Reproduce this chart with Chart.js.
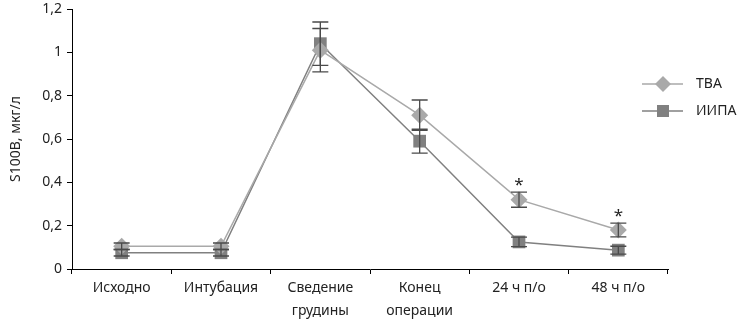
<!DOCTYPE html>
<html><head><meta charset="utf-8">
<script src="https://cdn.jsdelivr.net/npm/chart.js@4/dist/chart.umd.min.js"></script>
<style>html,body{margin:0;padding:0;background:#fff}#wrap{width:737px;height:319px}</style>
</head><body><div id="wrap"><canvas id="c" width="737" height="319"></canvas></div>
<script>
const categories = ["Исходно", "Интубация", ["Сведение", "грудины"], ["Конец", "операции"], "24 ч п/о", "48 ч п/о"];
const seriesNames = ["ТВА", "ИИПА"];
const tvaValues = [0.105, 0.105, 1.01, 0.71, 0.32, 0.18];
const tvaErrors = [0.015, 0.015, 0.10, 0.07, 0.035, 0.032];
const iipaValues = [0.075, 0.075, 1.04, 0.59, 0.125, 0.087];
const iipaErrors = [0.015, 0.015, 0.10, 0.055, 0.022, 0.018];
const significant = [false, false, false, false, true, true];
const yTicks = [0, 0.2, 0.4, 0.6, 0.8, 1, 1.2];

const FONT = "'Noto Sans', sans-serif";
const colTva = '#a9a9a9', colIipa = '#808080', colErr = '#4a4a4a';
const errors = [tvaErrors, iipaErrors];

const fmt = v => String(Math.round(v * 10) / 10).replace('.', ',');

const errPlugin = {
  id: 'errbars',
  afterDatasetsDraw(chart) {
    const ctx = chart.ctx, ys = chart.scales.y;
    ctx.save();
    ctx.strokeStyle = colErr; ctx.lineWidth = 1.3;
    chart.data.datasets.forEach((ds, i) => {
      const meta = chart.getDatasetMeta(i);
      ds.data.forEach((v, j) => {
        const e = errors[i][j];
        const x = meta.data[j].x;
        const yh = ys.getPixelForValue(v + e), yl = ys.getPixelForValue(v - e);
        ctx.beginPath();
        ctx.moveTo(x, yh); ctx.lineTo(x, yl);
        ctx.moveTo(x - 8, yh); ctx.lineTo(x + 8, yh);
        ctx.moveTo(x - 8, yl); ctx.lineTo(x + 8, yl);
        ctx.stroke();
      });
    });
    const meta0 = chart.getDatasetMeta(0);
    ctx.fillStyle = '#222'; ctx.font = "17px " + FONT; ctx.textAlign = 'center'; ctx.textBaseline = 'alphabetic';
    significant.forEach((s, j) => {
      if (!s) return;
      const x = meta0.data[j].x;
      const yh = ys.getPixelForValue(tvaValues[j] + tvaErrors[j]);
      ctx.fillText('*', x, yh - 2);
    });
    ctx.restore();
  },
  afterDraw(chart) {
    const ctx = chart.ctx;
    ctx.save();
    const rows = [
      {name: seriesNames[0], y: 84, col: colTva, shape: 'diamond'},
      {name: seriesNames[1], y: 111, col: colIipa, shape: 'square'}
    ];
    rows.forEach(r => {
      ctx.strokeStyle = r.col; ctx.lineWidth = 1.5;
      ctx.beginPath(); ctx.moveTo(642, r.y); ctx.lineTo(683, r.y); ctx.stroke();
      ctx.fillStyle = r.col;
      ctx.beginPath();
      if (r.shape === 'diamond') {
        ctx.moveTo(663, r.y - 8); ctx.lineTo(671, r.y); ctx.lineTo(663, r.y + 8); ctx.lineTo(655, r.y); ctx.closePath();
      } else {
        ctx.rect(657, r.y - 6, 12, 12);
      }
      ctx.fill();
      ctx.fillStyle = '#222'; ctx.font = "14px " + FONT; ctx.textAlign = 'left'; ctx.textBaseline = 'middle';
      ctx.fillText(r.name, 696, r.y);
    });
    ctx.restore();
  }
};

new Chart(document.getElementById('c'), {
  type: 'line',
  data: {
    labels: categories,
    datasets: [
      {label: seriesNames[0], data: tvaValues, borderColor: colTva, backgroundColor: colTva, borderWidth: 1.5,
       pointStyle: 'rectRot', pointRadius: 8.5, pointHoverRadius: 8.5, pointBorderWidth: 0, tension: 0},
      {label: seriesNames[1], data: iipaValues, borderColor: colIipa, backgroundColor: colIipa, borderWidth: 1.5,
       pointStyle: 'rect', pointRadius: 9, pointHoverRadius: 9, pointBorderWidth: 0, tension: 0}
    ]
  },
  options: {
    responsive: false, animation: false,
    layout: {padding: {left: 0, right: 69, top: 4, bottom: 0}},
    plugins: {legend: {display: false}, tooltip: {enabled: false}},
    scales: {
      x: {
        offset: true,
        grid: {display: true, drawOnChartArea: false, drawTicks: true, tickLength: 5, offset: true, color: '#000', lineWidth: 1},
        border: {display: true, color: '#000', width: 1},
        ticks: {color: '#222', font: {family: FONT, size: 14, lineHeight: 1.65}, padding: 2, maxRotation: 0, autoSkip: false},
        afterFit(s) { s.height = 50; }
      },
      y: {
        min: 0, max: 1.2,
        afterBuildTicks(s) { s.ticks = yTicks.map(v => ({value: v})); },
        grid: {display: true, drawOnChartArea: false, drawTicks: true, tickLength: 5, color: '#000', lineWidth: 1},
        border: {display: true, color: '#000', width: 1},
        ticks: {color: '#222', font: {family: FONT, size: 14, lineHeight: 0.5}, padding: 5, callback: v => fmt(v)},
        title: {display: true, text: 'S100B, мкг/л', color: '#222', font: {family: FONT, size: 14}, padding: {top: 8, bottom: 2}},
        afterFit(s) { s.width = 72; }
      }
    }
  },
  plugins: [errPlugin]
});
</script>
</body></html>
